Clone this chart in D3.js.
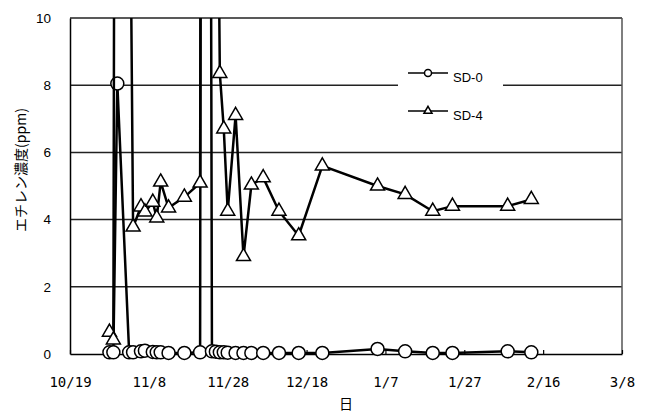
<!DOCTYPE html>
<html>
<head>
<meta charset="utf-8">
<script src="https://cdn.jsdelivr.net/npm/d3@7"></script>
<style>
    body { margin: 0; background: #fff; }
    svg { display: block; }
</style>
</head>
<body>
<svg id="canvas" width="649" height="412"></svg>
<script>
//Tick labels of both axes
const xTickLabels = ["10/19", "11/8", "11/28", "12/18", "1/7", "1/27", "2/16", "3/8"];
const yTicks = [0, 2, 4, 6, 8, 10];

//SD-0 series (values above 10 go off the top of the chart)
const sd0Dates = ["10/29", "10/30", "10/31", "11/3", "11/4", "11/6", "11/7", "11/9", "11/10", "11/11",
    "11/13", "11/17", "11/21", "11/22", "11/24", "11/25", "11/26", "11/27", "11/28", "11/30",
    "12/2", "12/4", "12/7", "12/11", "12/16", "12/22", "1/5", "1/12", "1/19", "1/24", "2/7", "2/13"];
const sd0Values = [0.05, 0.05, 8.05, 0.05, 0.05, 0.08, 0.1, 0.06, 0.05, 0.05,
    0.03, 0.03, 0.05, 100, 0.08, 0.07, 0.05, 0.05, 0.04, 0.03,
    0.03, 0.03, 0.03, 0.03, 0.03, 0.03, 0.15, 0.08, 0.03, 0.03, 0.08, 0.05];

//SD-4 series
const sd4Dates = ["10/29", "10/30", "10/31", "11/4", "11/6", "11/7", "11/9", "11/10", "11/11", "11/13",
    "11/17", "11/21", "11/22", "11/26", "11/27", "11/28", "11/30", "12/2", "12/4", "12/7",
    "12/11", "12/16", "12/22", "1/5", "1/12", "1/19", "1/24", "2/7", "2/13"];
const sd4Values = [0.65, 0.42, 60, 3.78, 4.38, 4.23, 4.52, 4.05, 5.12, 4.35,
    4.67, 5.09, 60, 8.35, 6.7, 4.25, 7.1, 2.9, 5.03, 5.25,
    4.25, 3.52, 5.6, 5.0, 4.75, 4.25, 4.4, 4.4, 4.6];

const seriesNames = ["SD-0", "SD-4"];

//Dates from Oct to Dec belong to the first year, the rest to the next one
const parseDay = (s) => {
    const [m, d] = s.split("/").map(Number);
    return new Date(m >= 10 ? 2005 : 2006, m - 1, d);
};

const margin = { left: 70, right: 622, top: 18, bottom: 354 };
const canvas = d3.select("#canvas");

const xScale = d3.scaleTime()
    .domain([parseDay(xTickLabels[0]), parseDay(xTickLabels[xTickLabels.length - 1])])
    .range([margin.left, margin.right]);

const yScale = d3.scaleLinear()
    .domain([0, 10])
    .range([margin.bottom, margin.top]);

//Horizontal grid lines
canvas.append("g")
    .selectAll("line")
    .data(yTicks.filter((d) => d > 0))
    .enter()
    .append("line")
    .attr("x1", margin.left)
    .attr("x2", margin.right)
    .attr("y1", (d) => yScale(d))
    .attr("y2", (d) => yScale(d))
    .attr("stroke", "#222")
    .attr("stroke-width", 1.5);

//Right border of the plot area
canvas.append("line")
    .attr("x1", margin.right)
    .attr("x2", margin.right)
    .attr("y1", margin.top)
    .attr("y2", margin.bottom)
    .attr("stroke", "#555")
    .attr("stroke-width", 1.5);

//X axis with small ticks pointing up
const xAxis = d3.axisBottom(xScale)
    .tickValues(xTickLabels.map(parseDay))
    .tickFormat(d3.timeFormat("%-m/%-d"))
    .tickSizeInner(-4)
    .tickSizeOuter(0)
    .tickPadding(23);

canvas.append("g")
    .attr("transform", "translate(0," + margin.bottom + ")")
    .call(xAxis)
    .call((g) => g.select(".domain").attr("stroke", "#000").attr("stroke-width", 1.5))
    .call((g) => g.selectAll(".tick line").attr("stroke", "#000").attr("stroke-width", 1.2))
    .call((g) => g.selectAll("text")
        .attr("fill", "#000")
        .style("font-family", "'DejaVu Sans Mono', monospace")
        .style("font-size", "14px"));

//Y axis, labels only
const yAxis = d3.axisLeft(yScale)
    .tickValues(yTicks)
    .tickSize(0)
    .tickPadding(19);

canvas.append("g")
    .attr("transform", "translate(" + margin.left + ",0)")
    .call(yAxis)
    .call((g) => g.select(".domain").attr("stroke", "#000").attr("stroke-width", 1.5))
    .call((g) => g.selectAll("text")
        .attr("fill", "#000")
        .style("font-family", "'Liberation Sans', Arial, sans-serif")
        .style("font-size", "13.5px"));

//Axis titles
canvas.append("text")
    .attr("x", (margin.left + margin.right) / 2)
    .attr("y", 409)
    .attr("text-anchor", "middle")
    .style("font-family", "'Noto Sans CJK JP', sans-serif")
    .style("font-size", "14px")
    .text("日");

canvas.append("text")
    .attr("transform", "translate(26,170) rotate(-90)")
    .attr("text-anchor", "middle")
    .style("font-family", "'Noto Sans CJK JP', sans-serif")
    .style("font-size", "14px")
    .text("エチレン濃度(ppm)");

//Clip the series at the top of the plot area
canvas.append("clipPath")
    .attr("id", "plot-clip")
    .append("rect")
    .attr("x", margin.left)
    .attr("y", margin.top)
    .attr("width", margin.right - margin.left)
    .attr("height", 412 - margin.top);

const toPoints = (dates, values) => dates.map((d, i) => ({ date: parseDay(d), value: values[i] }));
const sd0 = toPoints(sd0Dates, sd0Values);
const sd4 = toPoints(sd4Dates, sd4Values);

const line = d3.line()
    .x((d) => xScale(d.date))
    .y((d) => yScale(d.value));

const triangle = d3.symbol(d3.symbolTriangle, 85);

const plot = canvas.append("g").attr("clip-path", "url(#plot-clip)");

//SD-0: line with circles
plot.append("path")
    .datum(sd0)
    .attr("d", line)
    .attr("fill", "none")
    .attr("stroke", "#000")
    .attr("stroke-width", 2.5);

plot.selectAll(".sd0")
    .data(sd0.filter((d) => d.value <= 10))
    .enter()
    .append("circle")
    .attr("class", "sd0")
    .attr("cx", (d) => xScale(d.date))
    .attr("cy", (d) => yScale(d.value))
    .attr("r", 6.5)
    .attr("fill", "#fff")
    .attr("stroke", "#000")
    .attr("stroke-width", 1.5);

//SD-4: line with triangles
plot.append("path")
    .datum(sd4)
    .attr("d", line)
    .attr("fill", "none")
    .attr("stroke", "#000")
    .attr("stroke-width", 2.5);

plot.selectAll(".sd4")
    .data(sd4.filter((d) => d.value <= 10))
    .enter()
    .append("path")
    .attr("class", "sd4")
    .attr("d", triangle)
    .attr("transform", (d) => "translate(" + xScale(d.date) + "," + yScale(d.value) + ")")
    .attr("fill", "#fff")
    .attr("stroke", "#000")
    .attr("stroke-width", 1.5);

//Legend on a white box that covers the grid line
const legend = canvas.append("g");

legend.append("rect")
    .attr("x", 398)
    .attr("y", 55)
    .attr("width", 105)
    .attr("height", 75)
    .attr("fill", "#fff");

const legendItems = legend.selectAll(".legend-item")
    .data(seriesNames)
    .enter()
    .append("g")
    .attr("class", "legend-item")
    .attr("transform", (d, i) => "translate(408," + (73 + i * 38) + ")");

legendItems.append("line")
    .attr("x1", 0)
    .attr("x2", 40)
    .attr("stroke", "#000")
    .attr("stroke-width", 1.5);

legendItems.filter((d, i) => i === 0)
    .append("circle")
    .attr("cx", 20)
    .attr("r", 3.5)
    .attr("fill", "#fff")
    .attr("stroke", "#000")
    .attr("stroke-width", 1.5);

legendItems.filter((d, i) => i === 1)
    .append("path")
    .attr("d", d3.symbol(d3.symbolTriangle, 28))
    .attr("transform", "translate(20,0)")
    .attr("fill", "#fff")
    .attr("stroke", "#000")
    .attr("stroke-width", 1.5);

legendItems.append("text")
    .attr("x", 45)
    .attr("y", 8.5)
    .style("font-family", "'Liberation Sans', Arial, sans-serif")
    .style("font-size", "13px")
    .text((d) => d);
</script>
</body>
</html>
